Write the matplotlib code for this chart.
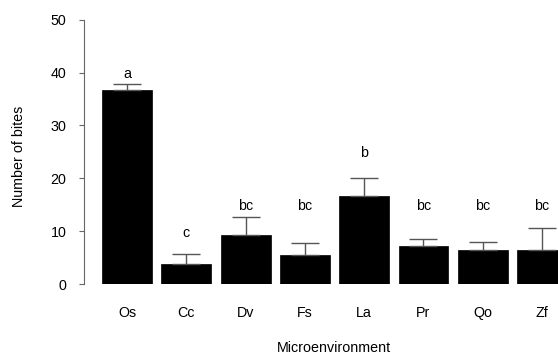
import matplotlib
matplotlib.use("Agg")
import matplotlib.pyplot as plt

plt.rcParams['font.family'] = ['Liberation Sans', 'DejaVu Sans']

sites = ['Os', 'Cc', 'Dv', 'Fs', 'La', 'Pr', 'Qo', 'Zf']
bites = [36.7, 3.8, 9.3, 5.5, 16.6, 7.2, 6.4, 6.4]
err_up = [1.2, 1.9, 3.4, 2.3, 3.4, 1.3, 1.5, 4.2]
letters = ['a', 'c', 'bc', 'bc', 'b', 'bc', 'bc', 'bc']
letter_y = [40, 10, 15, 15, 25, 15, 15, 15]

W, H = 558, 356
fs = 10.3
fig = plt.figure(figsize=(W / 100, H / 100), dpi=100)
left, bottom, top, right = 84, 284, 19.7, 600
ax = fig.add_axes([left / W, 1 - bottom / H, (right - left) / W, (bottom - top) / H])

x = list(range(len(sites)))
ax.bar(x, bites, width=0.843, color='black', edgecolor='black', linewidth=0.5)
ax.errorbar(x, bites, yerr=[[0] * len(x), err_up], fmt='none', ecolor='#555555',
            elinewidth=1.0, capsize=10, capthick=1.0)

for xi, lab, ly in zip(x, letters, letter_y):
    ax.text(xi, ly, lab, ha='center', va='center_baseline', fontsize=fs)

ax.set_xlim(-0.725, (right - 127) / 59.3)
ax.set_ylim(0, 50)
ax.set_yticks([0, 10, 20, 30, 40, 50])
ax.set_xticks(x)
ax.set_xticklabels(sites, fontsize=fs)
ax.tick_params(axis='x', length=0, pad=16)
ax.tick_params(axis='y', length=3.6, width=0.8, color='#666666', pad=9, labelsize=fs)

for s in ['top', 'right', 'bottom']:
    ax.spines[s].set_visible(False)
ax.spines['left'].set_color('#666666')
ax.spines['left'].set_linewidth(0.8)

fig.text(334 / W, 1 - 348 / H, 'Microenvironment', ha='center', va='center', fontsize=fs)
fig.text(19 / W, 1 - 156 / H, 'Number of bites', ha='center', va='center',
         rotation=90, fontsize=fs)

fig.savefig('out.png', dpi=100)
